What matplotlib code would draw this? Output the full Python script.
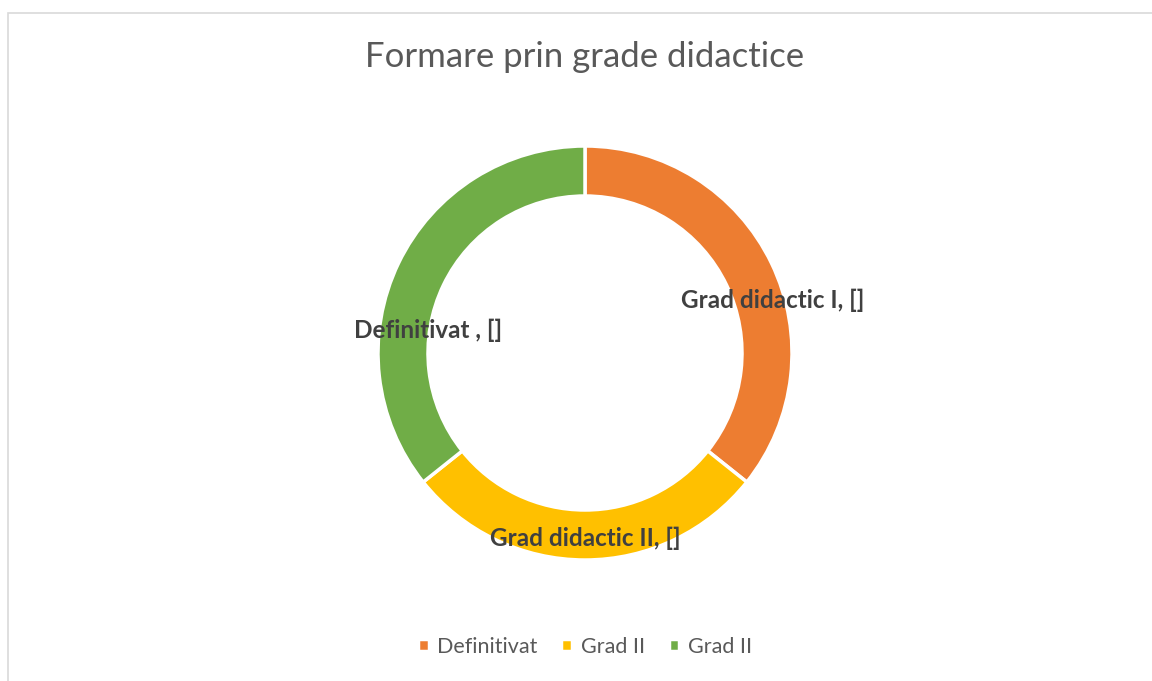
import matplotlib
matplotlib.use('Agg')
import matplotlib.pyplot as plt
from matplotlib.patches import Rectangle

# data
values = [5, 4, 5]
colors = ['#ED7D31', '#FFC000', '#70AD47']
legend_labels = ['Definitivat', 'Grad II', 'Grad II']
slice_labels = ['Grad didactic I, []', 'Grad didactic II, []', 'Definitivat , []']
label_pos = [(773, 381), (585, 143), (428, 351)]  # pixel coords (y from bottom)

W, H = 1152, 681
fig = plt.figure(figsize=(W / 100, H / 100), dpi=100, facecolor='white')
ax = fig.add_axes([0, 0, 1, 1])

# chart frame
ax.add_patch(Rectangle((7.5, -5), W + 10, H - 12.5 + 5, fill=False,
                       edgecolor='#D9D9D9', linewidth=1.2))

cx, cy, r = 585, H - 353, 207
wedges, _ = ax.pie(values, colors=colors, startangle=90, counterclock=False,
                   center=(cx, cy), radius=r, frame=True,
                   wedgeprops=dict(width=50, edgecolor='white', linewidth=2.5))
ax.set_xlim(0, W)
ax.set_ylim(0, H)
ax.set_aspect('equal')
ax.axis('off')

for (x, y), lab in zip(label_pos, slice_labels):
    ax.text(x, y, lab, ha='center', va='center', fontsize=17.5, fontweight='bold',
            color='#404040', family='Lato')

ax.text(cx, H - 57, 'Formare prin grade didactice', ha='center', va='center',
        fontsize=25, color='#595959', family='Lato')

leg = ax.legend(wedges, legend_labels, loc='center', bbox_to_anchor=(cx / W, (H - 647) / H),
                ncol=3, frameon=False, handlelength=0.5, handleheight=0.5,
                handletextpad=0.4, columnspacing=1.1,
                prop=dict(family='Lato', size=15.5))
for t in leg.get_texts():
    t.set_color('#595959')

fig.savefig('out.png', dpi=100, facecolor='white')
